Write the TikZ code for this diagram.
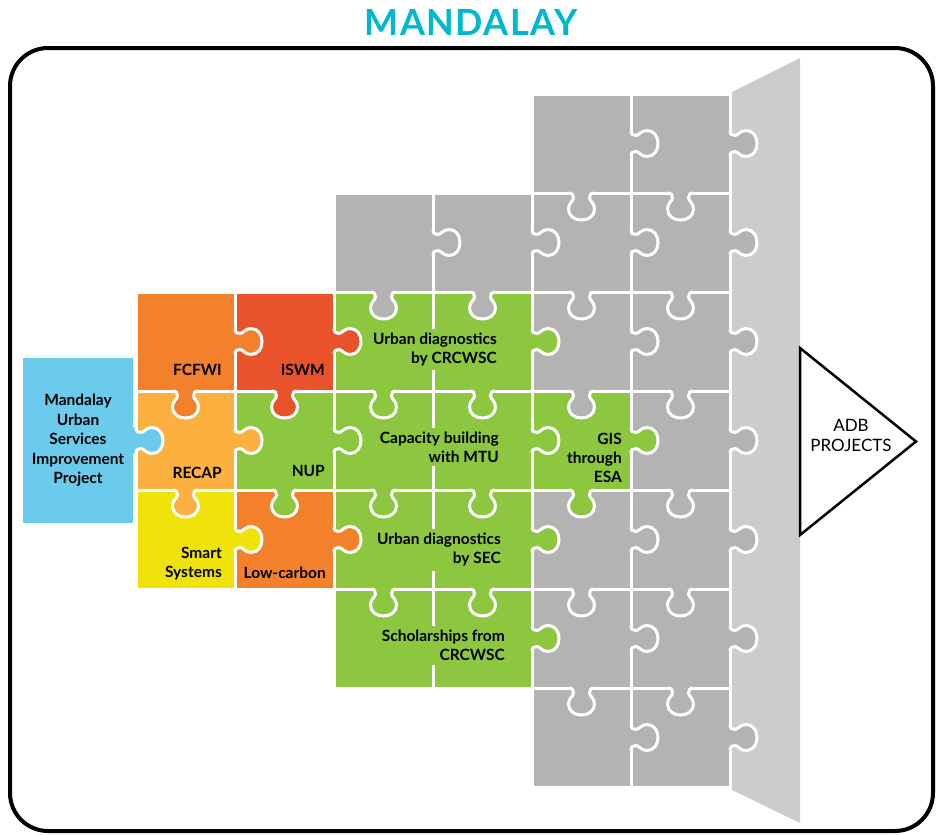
\documentclass[tikz,border=0pt]{standalone}
\usepackage{fontspec}
\setmainfont{Lato}
\newfontfamily\titlefont{Lato}[LetterSpace=4]
\usepackage{xcolor}
\definecolor{musipblue}{HTML}{6BCBEC}
\definecolor{fcorange}{HTML}{F3812B}
\definecolor{iswmred}{HTML}{E8532C}
\definecolor{recapyellow}{HTML}{FBB040}
\definecolor{nupgreen}{HTML}{8DC63F}
\definecolor{smartyellow}{HTML}{EFE30A}
\definecolor{piecegray}{HTML}{B3B3B3}
\definecolor{panelgray}{HTML}{CCCCCC}
\definecolor{titleteal}{HTML}{00B8CE}

\begin{document}
\begin{tikzpicture}[x=1pt,y=1pt]
\tikzstyle{every node}+=[inner sep=2pt]
\tikzstyle{cell}=[draw=white,line width=3pt]
\tikzstyle{lbl}=[font=\fontsize{15.5}{19}\selectfont\bfseries,align=right,anchor=east]
\tikzset{
knobd/.pic={
\path[pic actions] (-13,0) .. controls (-9,0) and (-8,-2) .. (-8,-5) .. controls (-8,-8) and (-13,-10) .. (-13,-16) .. controls (-13,-23) and (-7,-27) .. (0,-27) .. controls (7,-27) and (13,-23) .. (13,-16) .. controls (13,-10) and (8,-8) .. (8,-5) .. controls (8,-2) and (9,0) .. (13,0) -- (13,3.5) -- (-13,3.5) -- cycle;
\draw[white,line width=3pt] (-13,0) .. controls (-9,0) and (-8,-2) .. (-8,-5) .. controls (-8,-8) and (-13,-10) .. (-13,-16) .. controls (-13,-23) and (-7,-27) .. (0,-27) .. controls (7,-27) and (13,-23) .. (13,-16) .. controls (13,-10) and (8,-8) .. (8,-5) .. controls (8,-2) and (9,0) .. (13,0);
},
knobr/.pic={
\path[pic actions] (0,-13) .. controls (0,-9) and (2,-8) .. (5,-8) .. controls (8,-8) and (10,-13) .. (16,-13) .. controls (23,-13) and (27,-7) .. (27,0) .. controls (27,7) and (23,13) .. (16,13) .. controls (10,13) and (8,8) .. (5,8) .. controls (2,8) and (0,9) .. (0,13) -- (-3.5,13) -- (-3.5,-13) -- cycle;
\draw[white,line width=3pt] (0,-13) .. controls (0,-9) and (2,-8) .. (5,-8) .. controls (8,-8) and (10,-13) .. (16,-13) .. controls (23,-13) and (27,-7) .. (27,0) .. controls (27,7) and (23,13) .. (16,13) .. controls (10,13) and (8,8) .. (5,8) .. controls (2,8) and (0,9) .. (0,13);
}}
\useasboundingbox (0,0) rectangle (938,-835);
\fill [panelgray] (732,-92) -- (800,-58) -- (800,-823) -- (732,-790) -- cycle;
\filldraw [cell,fill=piecegray] (532,-94) rectangle (631,-193);
\filldraw [cell,fill=piecegray] (631,-94) rectangle (730,-193);
\filldraw [cell,fill=piecegray] (334,-193) rectangle (433,-292);
\filldraw [cell,fill=piecegray] (433,-193) rectangle (532,-292);
\filldraw [cell,fill=piecegray] (532,-193) rectangle (631,-292);
\filldraw [cell,fill=piecegray] (631,-193) rectangle (730,-292);
\filldraw [cell,fill=fcorange] (136,-292) rectangle (235,-391);
\filldraw [cell,fill=iswmred] (235,-292) rectangle (334,-391);
\filldraw [cell,fill=nupgreen] (334,-292) rectangle (433,-391);
\filldraw [cell,fill=nupgreen] (433,-292) rectangle (532,-391);
\filldraw [cell,fill=piecegray] (532,-292) rectangle (631,-391);
\filldraw [cell,fill=piecegray] (631,-292) rectangle (730,-391);
\filldraw [cell,fill=recapyellow] (136,-391) rectangle (235,-490);
\filldraw [cell,fill=nupgreen] (235,-391) rectangle (334,-490);
\filldraw [cell,fill=nupgreen] (334,-391) rectangle (433,-490);
\filldraw [cell,fill=nupgreen] (433,-391) rectangle (532,-490);
\filldraw [cell,fill=nupgreen] (532,-391) rectangle (631,-490);
\filldraw [cell,fill=piecegray] (631,-391) rectangle (730,-490);
\filldraw [cell,fill=smartyellow] (136,-490) rectangle (235,-589);
\filldraw [cell,fill=fcorange] (235,-490) rectangle (334,-589);
\filldraw [cell,fill=nupgreen] (334,-490) rectangle (433,-589);
\filldraw [cell,fill=nupgreen] (433,-490) rectangle (532,-589);
\filldraw [cell,fill=piecegray] (532,-490) rectangle (631,-589);
\filldraw [cell,fill=piecegray] (631,-490) rectangle (730,-589);
\filldraw [cell,fill=nupgreen] (334,-589) rectangle (433,-688);
\filldraw [cell,fill=nupgreen] (433,-589) rectangle (532,-688);
\filldraw [cell,fill=piecegray] (532,-589) rectangle (631,-688);
\filldraw [cell,fill=piecegray] (631,-589) rectangle (730,-688);
\filldraw [cell,fill=piecegray] (532,-688) rectangle (631,-787);
\filldraw [cell,fill=piecegray] (631,-688) rectangle (730,-787);
\node [fill=musipblue,minimum width=110pt,minimum height=165pt,inner sep=0pt,align=center,font=\fontsize{15.5}{19.5}\selectfont\bfseries] (musip) at (78,-440.5) {Mandalay\\Urban\\Services\\Improvement\\Project};
\pic [fill=piecegray] at (631,-143.5) {knobr};
\pic [fill=piecegray] at (730,-143.5) {knobr};
\pic [fill=piecegray] at (433,-242.5) {knobr};
\pic [fill=piecegray] at (532,-242.5) {knobr};
\pic [fill=piecegray] at (631,-242.5) {knobr};
\pic [fill=piecegray] at (730,-242.5) {knobr};
\pic [fill=fcorange] at (235,-341.5) {knobr};
\pic [fill=iswmred] at (334,-341.5) {knobr};
\pic [fill=nupgreen] at (532,-341.5) {knobr};
\pic [fill=piecegray] at (631,-341.5) {knobr};
\pic [fill=piecegray] at (730,-341.5) {knobr};
\pic [fill=musipblue] at (136,-440.5) {knobr};
\pic [fill=recapyellow] at (235,-440.5) {knobr};
\pic [fill=nupgreen] at (334,-440.5) {knobr};
\pic [fill=nupgreen] at (532,-440.5) {knobr};
\pic [fill=nupgreen] at (631,-440.5) {knobr};
\pic [fill=piecegray] at (730,-440.5) {knobr};
\pic [fill=smartyellow] at (235,-539.5) {knobr};
\pic [fill=fcorange] at (334,-539.5) {knobr};
\pic [fill=nupgreen] at (532,-539.5) {knobr};
\pic [fill=piecegray] at (631,-539.5) {knobr};
\pic [fill=piecegray] at (730,-539.5) {knobr};
\pic [fill=nupgreen] at (532,-638.5) {knobr};
\pic [fill=piecegray] at (631,-638.5) {knobr};
\pic [fill=piecegray] at (730,-638.5) {knobr};
\pic [fill=piecegray] at (631,-737.5) {knobr};
\pic [fill=piecegray] at (730,-737.5) {knobr};
\pic [fill=piecegray] at (581.5,-193) {knobd};
\pic [fill=piecegray] at (680.5,-193) {knobd};
\pic [fill=piecegray] at (383.5,-292) {knobd};
\pic [fill=piecegray] at (482.5,-292) {knobd};
\pic [fill=piecegray] at (581.5,-292) {knobd};
\pic [fill=piecegray] at (680.5,-292) {knobd};
\pic [fill=fcorange] at (185.5,-391) {knobd};
\pic [fill=iswmred] at (284.5,-391) {knobd};
\pic [fill=nupgreen] at (383.5,-391) {knobd};
\pic [fill=nupgreen] at (482.5,-391) {knobd};
\pic [fill=piecegray] at (581.5,-391) {knobd};
\pic [fill=piecegray] at (680.5,-391) {knobd};
\pic [fill=recapyellow] at (185.5,-490) {knobd};
\pic [fill=nupgreen] at (284.5,-490) {knobd};
\pic [fill=nupgreen] at (383.5,-490) {knobd};
\pic [fill=nupgreen] at (482.5,-490) {knobd};
\pic [fill=nupgreen] at (581.5,-490) {knobd};
\pic [fill=piecegray] at (680.5,-490) {knobd};
\pic [fill=nupgreen] at (383.5,-589) {knobd};
\pic [fill=nupgreen] at (482.5,-589) {knobd};
\pic [fill=piecegray] at (581.5,-589) {knobd};
\pic [fill=piecegray] at (680.5,-589) {knobd};
\pic [fill=piecegray] at (581.5,-688) {knobd};
\pic [fill=piecegray] at (680.5,-688) {knobd};
\node [lbl] (fcfwi) at (224,-370) {FCFWI};
\node [lbl] (iswm) at (327,-370) {ISWM};
\node [lbl] (recap) at (224,-473) {RECAP};
\node [lbl] (nup) at (327,-471) {NUP};
\node [lbl] (smart) at (224,-563.5) {Smart\\Systems};
\node [lbl] (lowcarbon) at (328,-573) {Low-carbon};
\node [lbl,fill=nupgreen,inner sep=4pt] (udcrcwsc) at (501,-349.5) {Urban diagnostics\\by CRCWSC};
\node [lbl,fill=nupgreen,inner sep=4pt] (capmtu) at (503,-447) {Capacity building\\with MTU};
\node [lbl] (gisesa) at (624,-457.5) {GIS\\through\\ESA};
\node [lbl,fill=nupgreen,inner sep=4pt] (udsec) at (505,-550) {Urban diagnostics\\by SEC};
\node [lbl,fill=nupgreen,inner sep=4pt] (scholar) at (509,-645.5) {Scholarships from\\CRCWSC};
\draw [black,line width=2.5pt,fill=white] (800,-348) -- (916,-441.5) -- (800,-535) -- cycle;
\node [font=\fontsize{17}{20}\selectfont,align=center] (adb) at (851,-435) {ADB\\PROJECTS};
\draw [black,line width=4pt,rounded corners=38pt] (10,-48) rectangle (933,-831);
\node [text=titleteal,font=\titlefont\bfseries\fontsize{36}{36}\selectfont] (title) at (471,-22) {MANDALAY};
\end{tikzpicture}
\end{document}
